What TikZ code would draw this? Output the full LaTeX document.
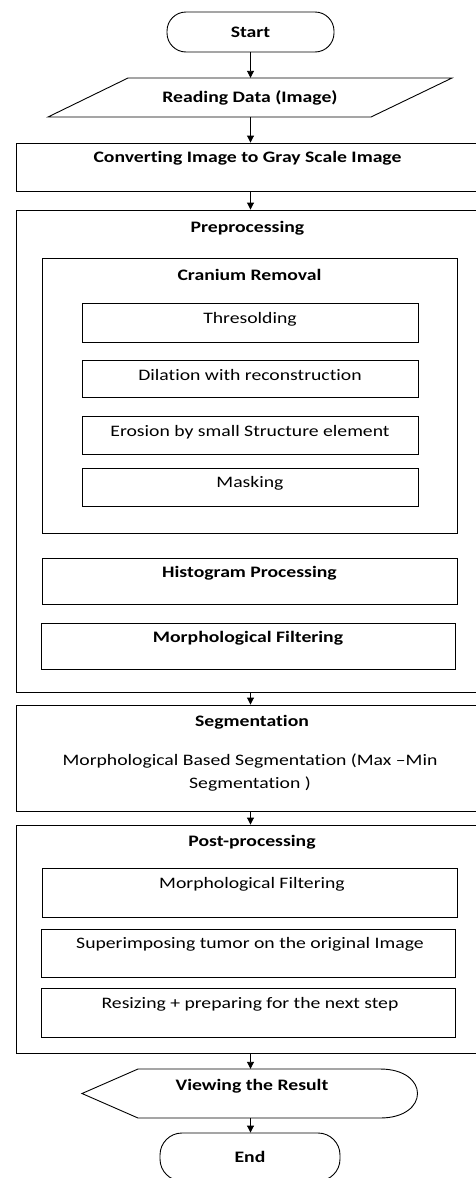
\documentclass[tikz,border=0pt]{standalone}
\usepackage{fontspec}
\setmainfont{Carlito}[FakeStretch=1.23, Ligatures={NoCommon}]
\usetikzlibrary{arrows.meta, positioning}

\tikzset{
    box/.style={draw, rectangle, line width=0.9pt, inner sep=0pt},
    term/.style={draw, rectangle, rounded corners=19pt, line width=0.9pt, minimum width=167pt, minimum height=40pt, font=\bfseries\fontsize{16}{19}\selectfont},
    title/.style={font=\bfseries\fontsize{16}{19}\selectfont, inner sep=0pt},
    plain/.style={font=\fontsize{16}{19}\selectfont, inner sep=0pt, align=center},
    arrow/.style={-{Triangle[length=7pt,width=7pt]}, line width=0.9pt}
}

\begin{document}
\begin{tikzpicture}[x=1pt, y=-1pt]
    \useasboundingbox (0,0) rectangle (476,1178);

    % Start and input
    \node[term] (start) at (250.5, 32) {Start};
    \draw[line width=0.9pt] (128,78) -- (452,78) -- (371,117) -- (48,117) -- cycle;
    \node[title, minimum height=39pt, minimum width=300pt] (read) at (250, 97.5) {Reading Data (Image)};

    % Gray scale
    \node[box, minimum width=463pt, minimum height=48pt] (conv) at (247.5, 167) {};
    \node[title] (convt) at (247.5, 158) {Converting Image to Gray Scale Image};

    % Preprocessing
    \node[box, minimum width=463pt, minimum height=482pt] (pre) at (247.5, 451) {};
    \node[title] (pret) at (247.5, 228) {Preprocessing};
    \node[box, minimum width=415pt, minimum height=275pt] (cran) at (249.5, 395.5) {};
    \node[title] (crant) at (249.5, 275) {Cranium Removal};
    \node[box, minimum width=336pt, minimum height=39pt] (thr) at (250, 322.5) {};
    \node[plain] (thrt) at (250, 319) {Thresolding};
    \node[box, minimum width=336pt, minimum height=37pt] (dil) at (250, 378.5) {};
    \node[plain] (dilt) at (250, 375) {Dilation with reconstruction};
    \node[box, minimum width=336pt, minimum height=38pt] (ero) at (250, 435) {};
    \node[plain] (erot) at (250, 432) {Erosion by small Structure element};
    \node[box, minimum width=336pt, minimum height=38pt] (mask) at (250, 487) {};
    \node[plain] (maskt) at (250, 483) {Masking};
    \node[box, minimum width=415pt, minimum height=46pt] (hist) at (249.5, 581) {};
    \node[title] (histt) at (249.5, 573) {Histogram Processing};
    \node[box, minimum width=414pt, minimum height=46pt] (morph) at (248, 646) {};
    \node[title] (morpht) at (248, 638) {Morphological Filtering};

    % Segmentation
    \node[box, minimum width=463pt, minimum height=106pt] (seg) at (247.5, 758) {};
    \node[title] (segt) at (252, 722) {Segmentation};
    \node[plain] (segb) at (250, 773) {Morphological Based Segmentation (Max --Min\\[4pt]Segmentation )};

    % Post-processing
    \node[box, minimum width=463pt, minimum height=228pt] (post) at (247.5, 939) {};
    \node[title] (postt) at (252, 842) {Post-processing};
    \node[box, minimum width=415pt, minimum height=49pt] (pmorph) at (249.5, 892.5) {};
    \node[plain] (pmorpht) at (252, 884) {Morphological Filtering};
    \node[box, minimum width=414pt, minimum height=48pt] (sup) at (248, 953) {};
    \node[plain] (supt) at (250, 944) {Superimposing tumor on the original Image};
    \node[box, minimum width=414pt, minimum height=49pt] (res) at (248, 1012.5) {};
    \node[plain] (rest) at (250, 1004) {Resizing + preparing for the next step};

    % Output and end
    \draw[line width=0.9pt] (138,1069) -- (380,1069) .. controls (430,1069) and (430,1118) .. (380,1118) -- (138,1118) -- (82,1093.5) -- cycle;
    \node[title, minimum height=49pt, minimum width=240pt] (view) at (252, 1093.5) {};
    \node[title] (viewt) at (252, 1086) {Viewing the Result};
    \node[term, minimum width=180pt, minimum height=48pt, rounded corners=22pt] (end) at (250, 1157) {End};

    % Flow
    \draw[arrow] (start.south) -- (start.south |- read.north);
    \draw[arrow] (start.south |- read.south) -- (start.south |- conv.north);
    \draw[arrow] (start.south |- conv.south) -- (start.south |- pre.north);
    \draw[arrow] (start.south |- pre.south) -- (start.south |- seg.north);
    \draw[arrow] (start.south |- seg.south) -- (start.south |- post.north);
    \draw[arrow] (start.south |- post.south) -- (start.south |- view.north);
    \draw[arrow] (start.south |- view.south) -- (start.south |- end.north);
\end{tikzpicture}
\end{document}
